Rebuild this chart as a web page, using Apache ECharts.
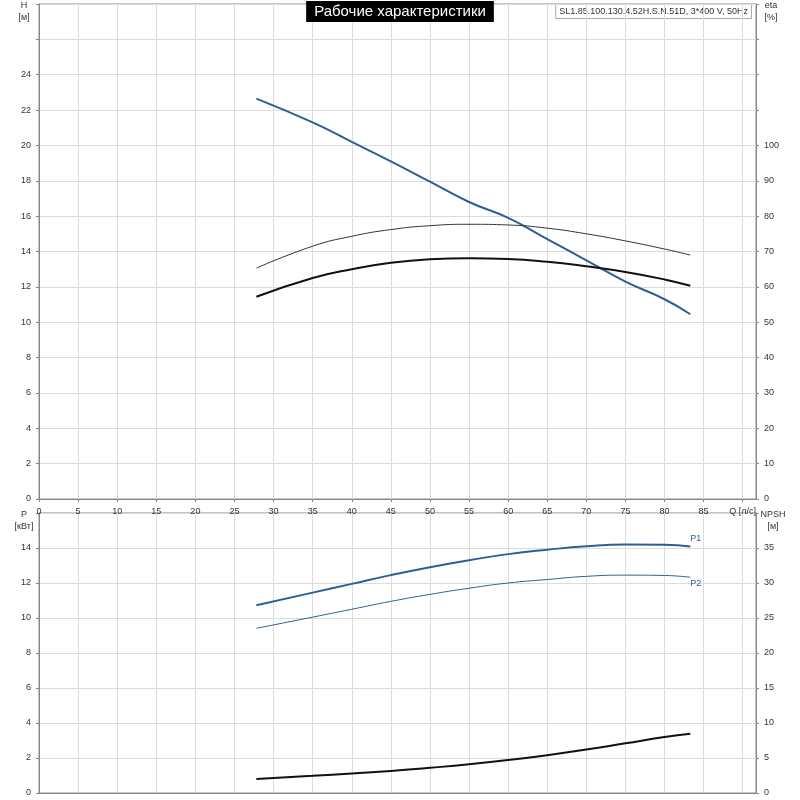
<!DOCTYPE html>
<html><head><meta charset="utf-8">
<script src="https://cdn.jsdelivr.net/npm/echarts@6/dist/echarts.min.js"></script>
<style>html,body{margin:0;background:#fff}#c{width:800px;height:800px}</style>
</head><body><div id="c"></div>
<script>
// расход Q, л/с
let qVals = [27.8, 35, 40, 45, 50, 55, 60, 65, 70, 75, 80, 83.3];
// напор H, м
let headVals = [22.65, 21.3, 20.2, 19.1, 17.95, 16.8, 15.9, 14.7, 13.5, 12.3, 11.3, 10.45];
// КПД, %
let etaPump = [65.3, 71.5, 74.3, 76.2, 77.3, 77.7, 77.5, 76.6, 75, 73, 70.7, 69];
let etaTotal = [57.2, 62.5, 65, 66.8, 67.8, 68.1, 67.9, 67.1, 65.8, 64.2, 62.1, 60.3];
// мощность, кВт
let p1Vals = [10.73, 11.45, 11.95, 12.45, 12.9, 13.3, 13.65, 13.9, 14.1, 14.2, 14.18, 14.08];
let p2Vals = [9.41, 10.05, 10.5, 10.95, 11.35, 11.7, 12.0, 12.2, 12.38, 12.45, 12.43, 12.33];
// NPSH, м
let npshVals = [2.0, 2.45, 2.8, 3.15, 3.6, 4.1, 4.7, 5.4, 6.2, 7.1, 8.0, 8.46];

let pair = (ys) => qVals.map((q, i) => [q, ys[i]]);
let blue = '#2d5f96';
let gridLine = {show: true, lineStyle: {color: '#dcdcdc'}};
let lbl = {color: '#333', fontSize: 9, fontFamily: 'Liberation Sans'};
let nameSt = {color: '#333', fontSize: 9, fontFamily: 'Liberation Sans', lineHeight: 12};

let xBase = (gi, showLbl) => ({
    type: 'value', gridIndex: gi, min: 0, max: 91.7, interval: 5,
    splitLine: gridLine, axisLine: {lineStyle: {color: '#888'}},
    axisTick: {show: showLbl, length: 3, lineStyle: {color: '#888'}},
    axisLabel: showLbl ? Object.assign({
        showMaxLabel: false,
        formatter: v => v === 90 ? 'Q [л/с]' : v
    }, lbl) : {show: false}
});

let myChart = echarts.init(document.getElementById('c'));
let option = {
    animation: false,
    title: {
        text: 'Рабочие характеристики', left: 'center', top: 1,
        backgroundColor: '#000', padding: [3, 8],
        textStyle: {color: '#fff', fontSize: 15, fontWeight: 'normal', fontFamily: 'Liberation Sans Narrow, Liberation Sans'}
    },
    graphic: [{
        type: 'text', right: 48, top: 4,
        style: {text: 'SL1.85.100.130.4.52H.S.N.51D, 3*400 V, 50Hz', fill: '#333', fontSize: 9,
            fontFamily: 'Liberation Sans', backgroundColor: '#fff', borderColor: '#aaa', borderWidth: 1, padding: [2, 3]}
    }],
    grid: [
        {left: 39, right: 44, top: 0, height: 499, show: true, borderColor: '#888'},
        {left: 39, right: 44, top: 513, height: 280, show: true, borderColor: '#888'}
    ],
    xAxis: [xBase(0, true), xBase(1, false)],
    yAxis: [
        {type: 'value', gridIndex: 0, min: 0, max: 28, interval: 2, name: 'H\n[м]', nameLocation: 'end',
            nameGap: -20, nameTextStyle: Object.assign({padding: [0, 30, 0, 0]}, nameSt),
            splitLine: gridLine, axisLine: {show: true, lineStyle: {color: '#888'}}, axisTick: {show: true, length: 3},
            axisLabel: Object.assign({formatter: v => v > 24 ? '' : v}, lbl)},
        {type: 'value', gridIndex: 0, min: 0, max: 140, interval: 10, position: 'right', name: 'eta\n[%]',
            nameGap: -20, nameTextStyle: Object.assign({padding: [0, 0, 0, 30]}, nameSt),
            splitLine: {show: false}, axisLine: {show: true, lineStyle: {color: '#888'}}, axisTick: {show: true, length: 3},
            axisLabel: Object.assign({formatter: v => v > 100 ? '' : v}, lbl)},
        {type: 'value', gridIndex: 1, min: 0, max: 16, interval: 2, name: 'P\n[кВт]',
            nameGap: -20, nameTextStyle: Object.assign({padding: [0, 30, 0, 0]}, nameSt),
            splitLine: gridLine, axisLine: {show: true, lineStyle: {color: '#888'}}, axisTick: {show: true, length: 3},
            axisLabel: Object.assign({formatter: v => v > 14 ? '' : v}, lbl)},
        {type: 'value', gridIndex: 1, min: 0, max: 40, interval: 5, position: 'right', name: 'NPSH\n[м]',
            nameGap: -20, nameTextStyle: Object.assign({padding: [0, 0, 0, 34]}, nameSt),
            splitLine: {show: false}, axisLine: {show: true, lineStyle: {color: '#888'}}, axisTick: {show: true, length: 3},
            axisLabel: Object.assign({formatter: v => v > 35 ? '' : v}, lbl)}
    ],
    series: [
        {type: 'line', xAxisIndex: 0, yAxisIndex: 0, data: pair(headVals), smooth: true, showSymbol: false,
            lineStyle: {color: blue, width: 2}},
        {type: 'line', xAxisIndex: 0, yAxisIndex: 1, data: pair(etaPump), smooth: true, showSymbol: false,
            lineStyle: {color: '#333', width: 1}},
        {type: 'line', xAxisIndex: 0, yAxisIndex: 1, data: pair(etaTotal), smooth: true, showSymbol: false,
            lineStyle: {color: '#111', width: 2}},
        {type: 'line', xAxisIndex: 1, yAxisIndex: 2, data: pair(p1Vals), smooth: true, showSymbol: false,
            lineStyle: {color: blue, width: 2},
            endLabel: {show: true, formatter: 'P1', color: blue, fontSize: 9, offset: [-8, -8]}},
        {type: 'line', xAxisIndex: 1, yAxisIndex: 2, data: pair(p2Vals), smooth: true, showSymbol: false,
            lineStyle: {color: blue, width: 1},
            endLabel: {show: true, formatter: 'P2', color: blue, fontSize: 9, offset: [-8, 6]}},
        {type: 'line', xAxisIndex: 1, yAxisIndex: 3, data: pair(npshVals), smooth: true, showSymbol: false,
            lineStyle: {color: '#111', width: 2}}
    ]
};
myChart.setOption(option);
</script>
</body></html>
